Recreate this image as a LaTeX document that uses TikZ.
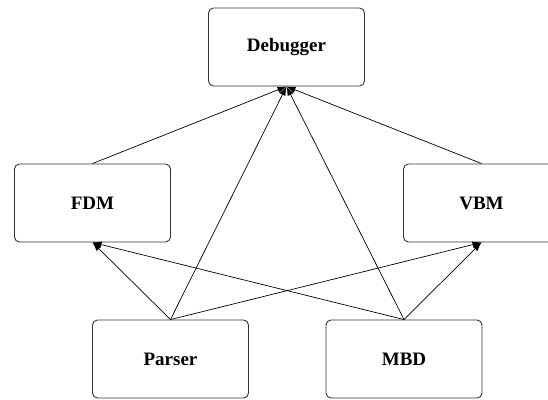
\documentclass[tikz,border=0pt]{standalone}
\usepackage{fontspec}
\setmainfont{Liberation Serif}
\usetikzlibrary{arrows.meta}
\begin{document}
\begin{tikzpicture}[x=1pt,y=1pt,
  box/.style={draw=black!80, rounded corners=5pt, minimum width=156pt,
    minimum height=78pt, inner sep=0pt, line width=0.9pt,
    font=\fontsize{19}{22}\selectfont\bfseries},
  link/.style={-{Latex[length=9pt,width=6.5pt]}, line width=0.7pt}]
  \useasboundingbox (0,0) rectangle (548,399);
  % module boxes
  \node[box] (dbg) at (286.5,352) {Debugger};
  \node[box] (fdm) at (92.5,196) {FDM};
  \node[box] (vbm) at (481.5,196) {\raisebox{-4pt}{VBM}};
  \node[box] (par) at (170.5,40) {Parser};
  \node[box] (mbd) at (404,40) {MBD};
  % dependencies
  \draw[link] (fdm.north) -- (dbg.south);
  \draw[link] (vbm.north) -- (dbg.south);
  \draw[link] (par.north) -- (dbg.south);
  \draw[link] (mbd.north) -- (dbg.south);
  \draw[link] (par.north) -- (fdm.south);
  \draw[link] (par.north) -- (vbm.south);
  \draw[link] (mbd.north) -- (fdm.south);
  \draw[link] (mbd.north) -- (vbm.south);
\end{tikzpicture}
\end{document}
